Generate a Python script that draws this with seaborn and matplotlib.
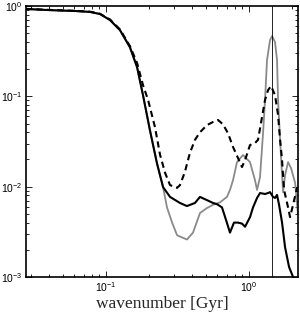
import numpy as np
import pandas as pd
import matplotlib
matplotlib.use("Agg")
import matplotlib.pyplot as plt
import seaborn as sns
from matplotlib.ticker import LogLocator, NullFormatter

# --- data (wavenumber, amplitude) ---
black_x = [0.0276, 0.0405, 0.0607, 0.0773, 0.0908, 0.1066, 0.1253, 0.147, 0.165, 0.1815,
           0.203, 0.2275, 0.2506, 0.2805, 0.329, 0.368, 0.419, 0.454, 0.508, 0.560,
           0.597, 0.647, 0.690, 0.736, 0.785, 0.838, 0.893, 0.938, 1.016, 1.067,
           1.138, 1.194, 1.294, 1.358, 1.403, 1.472, 1.520, 1.570, 1.622, 1.702,
           1.786, 1.905, 2.032, 2.13]
black_y = [0.927, 0.90, 0.88, 0.86, 0.815, 0.70, 0.54, 0.35, 0.21, 0.103,
           0.042, 0.018, 0.0099, 0.0077, 0.0066, 0.0061, 0.0066, 0.0077, 0.0071, 0.0066,
           0.0064, 0.0059, 0.0043, 0.0031, 0.0040, 0.0040, 0.0039, 0.0036, 0.0046, 0.0059,
           0.0075, 0.0085, 0.0083, 0.0085, 0.0087, 0.0077, 0.0075, 0.0081, 0.0063, 0.0040,
           0.00214, 0.00129, 0.001, 0.0008]

gray_x = [0.0276, 0.0405, 0.0607, 0.0773, 0.0908, 0.1066, 0.1253, 0.147, 0.165, 0.1815,
          0.203, 0.2275, 0.2506, 0.267, 0.290, 0.314, 0.368, 0.406, 0.454, 0.508,
          0.560, 0.627, 0.701, 0.736, 0.773, 0.824, 0.908, 1.016, 1.101, 1.138,
          1.194, 1.253, 1.294, 1.336, 1.403, 1.449, 1.520, 1.570, 1.596, 1.649,
          1.702, 1.730, 1.786, 1.875, 1.968, 2.10, 2.2]
gray_y = [0.927, 0.90, 0.88, 0.86, 0.815, 0.70, 0.54, 0.35, 0.21, 0.103,
          0.042, 0.018, 0.0099, 0.0059, 0.0040, 0.0029, 0.0026, 0.0031, 0.0051, 0.0058,
          0.0063, 0.0067, 0.0077, 0.0092, 0.0118, 0.0187, 0.0224, 0.0187, 0.0118, 0.0092,
          0.0128, 0.039, 0.091, 0.252, 0.42, 0.465, 0.40, 0.252, 0.091, 0.033,
          0.0134, 0.0087, 0.0134, 0.0187, 0.016, 0.011, 0.0049]

dash_x = [0.0276, 0.0405, 0.0607, 0.0773, 0.0908, 0.1066, 0.1253, 0.147, 0.165, 0.1815,
          0.197, 0.220, 0.239, 0.259, 0.2805, 0.314, 0.329, 0.356, 0.386, 0.419,
          0.454, 0.508, 0.560, 0.607, 0.658, 0.713, 0.773, 0.838, 0.893, 0.938,
          1.016, 1.101, 1.156, 1.233, 1.294, 1.358, 1.426, 1.520, 1.596, 1.649,
          1.702, 1.758, 1.875, 1.936, 2.032, 2.17]
dash_y = [0.93, 0.905, 0.885, 0.865, 0.82, 0.71, 0.55, 0.36, 0.234, 0.133,
          0.091, 0.0457, 0.0224, 0.0142, 0.0104, 0.0097, 0.0104, 0.0145, 0.0236, 0.033,
          0.040, 0.048, 0.052, 0.0547, 0.049, 0.039, 0.0275, 0.0207, 0.0165, 0.0197,
          0.0289, 0.0304, 0.033, 0.059, 0.091, 0.117, 0.130, 0.103, 0.062, 0.033,
          0.0197, 0.0092, 0.0059, 0.0046, 0.0063, 0.0099]

vline_x = 1.44
xlim = (0.0276, 2.2)
ylim = (1e-3, 1e0)
xlabel = "wavenumber [Gyr]"

df_black = pd.DataFrame({"x": black_x, "y": black_y})
df_gray = pd.DataFrame({"x": gray_x, "y": gray_y})
df_dash = pd.DataFrame({"x": dash_x, "y": dash_y})

sns.set_style("ticks")
plt.rcParams["font.family"] = ["Liberation Sans", "DejaVu Sans"]
plt.rcParams["mathtext.fontset"] = "custom"
plt.rcParams["mathtext.rm"] = "Liberation Sans"
plt.rcParams["mathtext.it"] = "Liberation Sans:italic"
plt.rcParams["mathtext.bf"] = "Liberation Sans:bold"
plt.rcParams["mathtext.sf"] = "Liberation Sans"
plt.rcParams["xtick.direction"] = "in"
plt.rcParams["ytick.direction"] = "in"

fig = plt.figure(figsize=(3.0, 3.18), dpi=100)
ax = fig.add_axes([26/300, 41/318, 272/300, 271/318])

sns.lineplot(data=df_gray, x="x", y="y", ax=ax, color="#8a8a8a", lw=1.3, sort=False, estimator=None)
sns.lineplot(data=df_dash, x="x", y="y", ax=ax, color="black", lw=1.5, sort=False, estimator=None,
             dashes=False)
ax.lines[-1].set_dashes((3, 2))
sns.lineplot(data=df_black, x="x", y="y", ax=ax, color="black", lw=1.5, sort=False, estimator=None)
ax.axvline(vline_x, color="black", lw=0.6)

ax.set_xscale("log")
ax.set_yscale("log")
ax.set_xlim(*xlim)
ax.set_ylim(*ylim)
ax.set_xlabel(xlabel, family="Liberation Serif", fontsize=12.5, labelpad=1)
ax.set_ylabel("")

ax.xaxis.set_major_locator(LogLocator(base=10, numticks=10))
ax.yaxis.set_major_locator(LogLocator(base=10, numticks=10))
ax.xaxis.set_minor_locator(LogLocator(base=10, subs=np.arange(2, 10), numticks=20))
ax.yaxis.set_minor_locator(LogLocator(base=10, subs=np.arange(2, 10), numticks=20))
ax.xaxis.set_minor_formatter(NullFormatter())
ax.yaxis.set_minor_formatter(NullFormatter())
ax.tick_params(which="both", top=True, right=True, direction="in", width=0.6, labelsize=7.5, colors="black")
ax.tick_params(which="major", length=4, pad=2.5)
ax.tick_params(which="minor", length=2)

for s in ax.spines.values():
    s.set_linewidth(1.2)
    s.set_color("black")

fig.savefig("out.png", dpi=100)
